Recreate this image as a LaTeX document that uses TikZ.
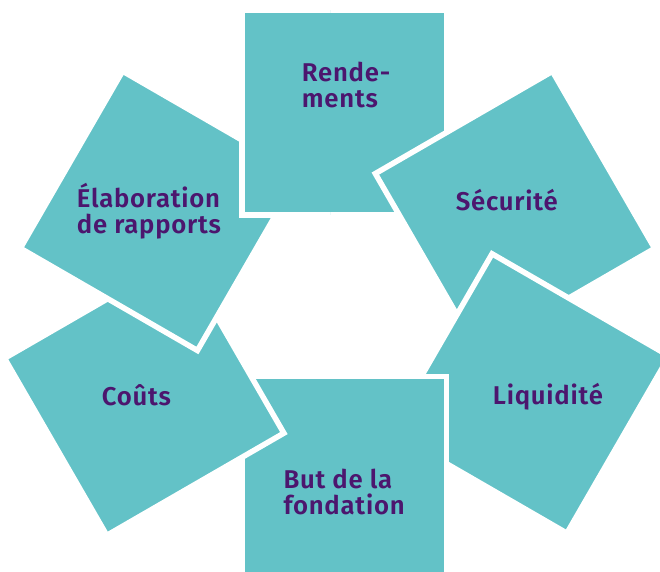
\documentclass[tikz,border=0pt]{standalone}
\usepackage{fontspec}
\setmainfont{Fira Sans}[BoldFont={Fira Sans SemiBold},LetterSpace=3]
\definecolor{turquoise}{RGB}{99,194,199}
\definecolor{prune}{RGB}{76,22,110}
\begin{document}
\begin{tikzpicture}[x=1pt,y=-1pt,
	carre/.style={shape=rectangle,draw=white,line width=5.5pt,fill=turquoise,minimum size=204.5pt,inner sep=0pt},
	texte/.style={anchor=base west,align=left,inner sep=0pt,text=prune,font=\bfseries\fontsize{25.7}{26.3}\selectfont}]
	%Cadre
	\useasboundingbox (0,0) rectangle (660,571) ;
	%Carres
	\node [carre]				(rend)	at (344.3,112.7)	{}	;
	\node [carre,rotate=30]		(secu)	at (515,211)		{}	;
	\node [carre,rotate=-30]	(liqu)	at (529.5,393.5)	{}	;
	\node [carre]				(but)	at (344.3,478.7)	{}	;
	\node [carre,rotate=30]		(cout)	at (144.2,395.7)	{}	;
	\node [carre,rotate=-30]	(elab)	at (160,210.8)		{}	;
	%Recouvrement
	\begin{scope}
		\clip (230,0) rectangle (330,230) ;
		\node [carre]			(rend2)	at (rend)			{}	;
	\end{scope}
	%Textes (base = derniere ligne)
	\node [texte]	(rend-t)	at (301.7,107.3)	{Rende-\\ments}					;
	\node [texte]	(secu-t)	at (455.7,210)		{Sécurité}						;
	\node [texte]	(liqu-t)	at (492.7,404.3)	{Liquidité}						;
	\node [texte]	(but-t)		at (283.3,514.3)	{But de la\\fondation}			;
	\node [texte]	(cout-t)	at (101.7,405)		{Coûts}							;
	\node [texte]	(elab-t)	at (76.7,233.5)		{Élaboration\\de rapports}		;
\end{tikzpicture}
\end{document}
